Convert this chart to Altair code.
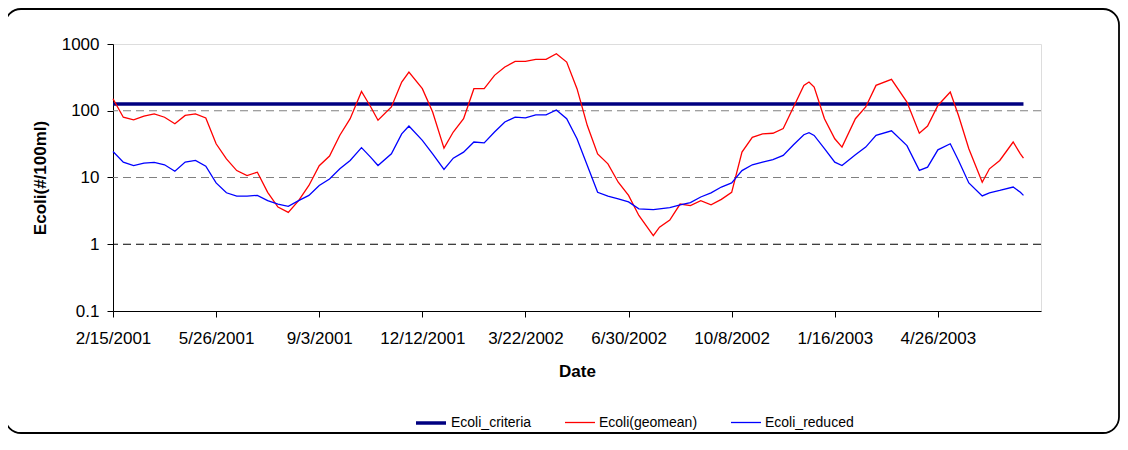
import altair as alt
import pandas as pd

# ---------------- data ----------------
start_date = "2001-02-15"
days = [0, 10, 20, 30, 40, 50, 60, 70, 80, 90, 100, 110, 120, 130, 140, 150, 160, 170, 180, 190,
        200, 210, 220, 230, 241, 250, 257, 270, 280, 287, 300, 310, 321, 330, 340, 350, 360, 370, 380, 390,
        400, 410, 420, 430, 440, 450, 460, 470, 480, 490, 500, 510, 524, 530, 540, 550, 560, 570, 580, 590,
        600, 610, 620, 630, 640, 650, 660, 670, 675, 680, 690, 700, 707, 720, 730, 740, 755, 770, 782, 790,
        800, 812, 820, 830, 843, 850, 860, 873, 880, 883]

geomean = [151, 80, 73, 83, 90, 80, 64, 85, 90, 78, 32, 19, 12.7, 10.7, 12, 6.0, 3.6, 3.0, 4.5, 7.6,
           15, 21, 43, 76, 195, 114, 72, 114, 269, 380, 214, 96, 27.5, 48, 76, 214, 214, 339, 452, 550,
           550, 589, 589, 716, 537, 214, 60, 22.6, 16, 8.5, 5.4, 2.7, 1.35, 1.8, 2.3, 4.0, 3.8, 4.5, 3.9, 4.7,
           6.0, 24, 40, 45, 46, 54, 114, 240, 269, 226, 76, 38, 28.5, 76, 114, 240, 295, 135, 46, 59,
           120, 191, 85, 27, 8.5, 13.5, 18, 34, 22.6, 19.5]

reduced = [24.5, 17, 15.1, 16.4, 16.8, 15.5, 12.4, 17, 18, 14.8, 8.3, 5.9, 5.25, 5.25, 5.4, 4.5, 4.0, 3.7, 4.5, 5.4,
           7.6, 9.5, 13.5, 18, 28, 20, 15.1, 22.6, 45, 59, 36, 22.6, 13.2, 19.5, 24, 34, 33, 48, 68, 80,
           78, 87, 87, 103, 76, 38, 15.1, 6.0, 5.25, 4.8, 4.3, 3.4, 3.3, 3.4, 3.55, 3.9, 4.2, 5.1, 5.9, 7.2,
           8.3, 12.7, 15.5, 17, 18.6, 21.4, 31, 43.7, 46.8, 42.7, 27, 17, 15.1, 22, 28.5, 42.7, 50, 30, 12.8, 14.3,
           26, 32, 18, 8.3, 5.3, 5.9, 6.4, 7.2, 6.0, 5.4]

criteria_days = [0, 883]
criteria_value = 126

series_names = ["Ecoli_criteria", "Ecoli(geomean)", "Ecoli_reduced"]
tick_dates = ["2001-02-15", "2001-05-26", "2001-09-03", "2001-12-12", "2002-03-22",
              "2002-06-30", "2002-10-08", "2003-01-16", "2003-04-26"]
x_domain = ["2001-02-15", "2003-08-04"]
y_ticks = [0.1, 1, 10, 100, 1000]
grid_values = [1, 10, 100]

# ---------------- build table ----------------
t0 = pd.Timestamp(start_date)


def to_str(d):
    return (t0 + pd.Timedelta(days=d)).strftime("%Y-%m-%dT%H:%M:%S")


rows = []
for d in criteria_days:
    rows.append({"date": to_str(d), "value": criteria_value, "series": series_names[0]})
for d, v in zip(days, geomean):
    rows.append({"date": to_str(d), "value": v, "series": series_names[1]})
for d, v in zip(days, reduced):
    rows.append({"date": to_str(d), "value": v, "series": series_names[2]})
df = pd.DataFrame(rows)


def dt(s):
    t = pd.Timestamp(s)
    return alt.DateTime(year=t.year, month=t.month, date=t.day)


FONT = "Liberation Sans, Arial, sans-serif"

x_enc = alt.X(
    "date:T",
    scale=alt.Scale(domain=[dt(s) for s in x_domain], nice=False),
    axis=alt.Axis(
        values=[dt(s) for s in tick_dates], format="%-m/%-d/%Y", title="Date",
        labelFontSize=17, labelFont=FONT, labelColor="black", labelPadding=13,
        labelOverlap=False, labelFlush=False,
        tickSize=6, tickColor="black", domainColor="black", grid=False,
        titleFontSize=17, titleFont=FONT, titleFontWeight="bold", titleColor="black",
        titlePadding=17,
    ),
)

y_scale = alt.Scale(type="log", domain=[0.1, 1000], nice=False)
y_axis = alt.Axis(
    values=y_ticks, format="~g", title="Ecoli(#/100ml)",
    labelFontSize=17, labelFont=FONT, labelColor="black", labelPadding=8,
    tickSize=6, tickColor="black", domainColor="black", grid=False,
    titleFontSize=17, titleFont=FONT, titleFontWeight="bold", titleColor="black",
    titlePadding=12,
)

legend = alt.Legend(
    title=None, orient="none", legendX=301, legendY=362, direction="horizontal",
    symbolType="stroke", symbolSize=900, labelFont=FONT,
    labelFontSize=14, labelColor="black", labelOffset=3, columnPadding=30,
)

grid = alt.Chart(pd.DataFrame({"v": grid_values})).mark_rule(
    strokeDash=[8, 5], strokeWidth=1
).encode(
    y=alt.Y("v:Q", scale=y_scale, axis=y_axis),
    color=alt.condition("datum.v == 1", alt.value("black"), alt.value("#808080")),
)

lines = alt.Chart(df).mark_line().encode(
    x=x_enc,
    y=alt.Y("value:Q", scale=y_scale, axis=y_axis),
    color=alt.Color("series:N", scale=alt.Scale(domain=series_names,
                                                range=["#000080", "#FF0000", "#0000FF"]),
                    legend=legend),
    strokeWidth=alt.StrokeWidth("series:N", scale=alt.Scale(type="ordinal", domain=series_names,
                                                            range=[3.5, 1.3, 1.3]),
                                legend=legend),
)

border = alt.Chart(pd.DataFrame({"a": [0]})).mark_rect(
    fillOpacity=0, stroke="black", strokeWidth=1.8, cornerRadius=16
).encode(
    x=alt.value(-108), x2=alt.value(1006), y=alt.value(-35), y2=alt.value(389)
)

chart = alt.layer(grid, lines, border).properties(
    width=928, height=267,
    autosize=alt.AutoSizeParams(type="none"),
    padding={"left": 105, "top": 36, "right": 79, "bottom": 125},
).configure_view(stroke="#808080", strokeWidth=1).configure(background="white")

chart.save("out.html", embed_options={"renderer": "svg", "actions": False})
